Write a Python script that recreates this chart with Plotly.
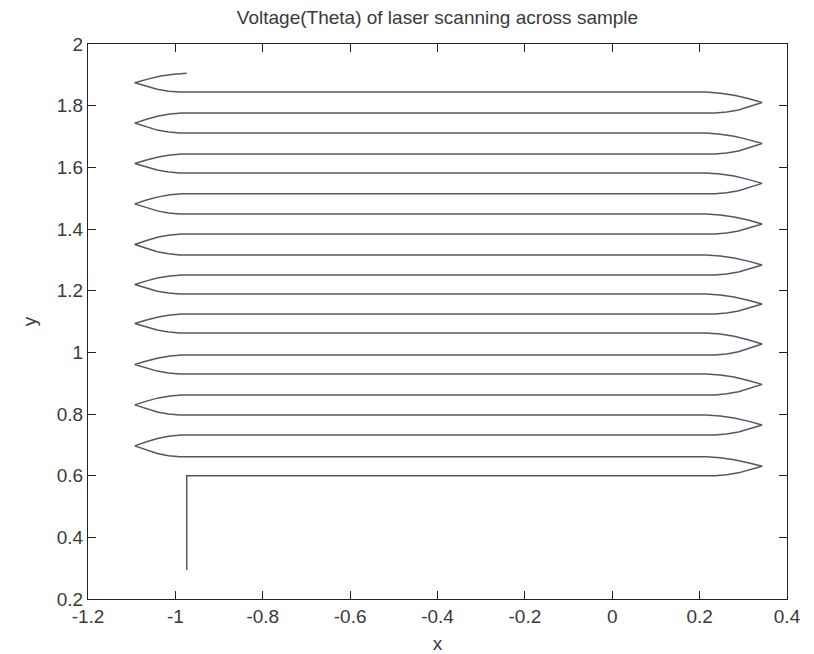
import plotly.graph_objects as go

# ---- data ----
# y level of each horizontal scan line (bottom to top)
row_y = [0.600, 0.661, 0.732, 0.797, 0.862, 0.930, 0.991, 1.063, 1.124, 1.189,
         1.251, 1.316, 1.384, 1.449, 1.514, 1.582, 1.643, 1.711, 1.776, 1.844]
start_point = (-0.974, 0.294)     # beginning of the path (vertical lead-in)
end_point = (-0.974, 1.905)       # end of the path
right_line_in = 0.235             # x where a rightward line starts to turn
right_line_out = 0.215            # x where the line leaves the right turn
right_tip_x = 0.343               # x of the right turning tips
left_line_in = -0.990             # x where a leftward line starts to turn
left_line_out = -0.985            # x where the line leaves the left turn
left_tip_x = -1.093               # x of the left turning tips

x_ticks = [-1.2, -1, -0.8, -0.6, -0.4, -0.2, 0, 0.2, 0.4]
x_tick_text = ["-1.2", "-1", "-0.8", "-0.6", "-0.4", "-0.2", "0", "0.2", "0.4"]
y_ticks = [0.2, 0.4, 0.6, 0.8, 1, 1.2, 1.4, 1.6, 1.8, 2]
y_tick_text = ["0.2", "0.4", "0.6", "0.8", "1", "1.2", "1.4", "1.6", "1.8", "2"]

# shape of a turn (fractions along x toward tip / along half-height)
turn_u = [0.0, 0.25, 0.5, 0.75, 1.0]
turn_f = [0.0, 0.10, 0.30, 0.62, 1.0]


def add_turn(xs, ys, x_from, x_tip, x_to, y_a, y_b):
    h = (y_b - y_a) / 2.0
    for u, f in zip(turn_u[1:], turn_f[1:]):
        xs.append(x_from + u * (x_tip - x_from))
        ys.append(y_a + f * h)
    for u, f in zip(reversed(turn_u[:-1]), reversed(turn_f[:-1])):
        xs.append(x_to + u * (x_tip - x_to))
        ys.append(y_b - f * h)


xs = [start_point[0], start_point[0]]
ys = [start_point[1], row_y[0]]
for i, y in enumerate(row_y):
    nxt = row_y[i + 1] if i + 1 < len(row_y) else end_point[1]
    if i % 2 == 0:
        xs.append(right_line_in)
        ys.append(y)
        add_turn(xs, ys, right_line_in, right_tip_x, right_line_out, y, nxt)
    else:
        xs.append(left_line_in)
        ys.append(y)
        x_to = left_line_out if i + 1 < len(row_y) else end_point[0]
        add_turn(xs, ys, left_line_in, left_tip_x, x_to, y, nxt)

fig = go.Figure()
fig.add_trace(go.Scatter(x=xs, y=ys, mode="lines",
                         line=dict(color="#555568", width=1.5),
                         showlegend=False, hoverinfo="skip"))

font = "Liberation Sans, Arial, Helvetica, sans-serif"
txt_color = "#3a3a3a"
axis_common = dict(showline=True, linecolor="#222222", linewidth=1, mirror="ticks",
                   ticks="inside", ticklen=8, tickcolor="#222222", showgrid=False,
                   zeroline=False, tickfont=dict(family=font, size=19, color=txt_color))

W, H = 814, 654
fig.update_layout(
    width=W, height=H,
    margin=dict(l=80, r=35, t=36, b=63),
    paper_bgcolor="white", plot_bgcolor="white",
    title=dict(text="Voltage(Theta) of laser scanning across sample",
               x=0.5, xref="paper", xanchor="center",
               y=1 - 3 / H, yref="container", yanchor="top",
               font=dict(family=font, size=19, color=txt_color)),
    xaxis=dict(range=[-1.2, 0.4], tickvals=x_ticks, ticktext=x_tick_text,
               title=dict(text="x", standoff=10, font=dict(family=font, size=19, color=txt_color)),
               **axis_common),
    yaxis=dict(range=[0.2, 2], tickvals=y_ticks, ticktext=y_tick_text,
               title=dict(text="y", standoff=15, font=dict(family=font, size=19, color=txt_color)),
               **axis_common),
)

fig.write_html("out.html")
